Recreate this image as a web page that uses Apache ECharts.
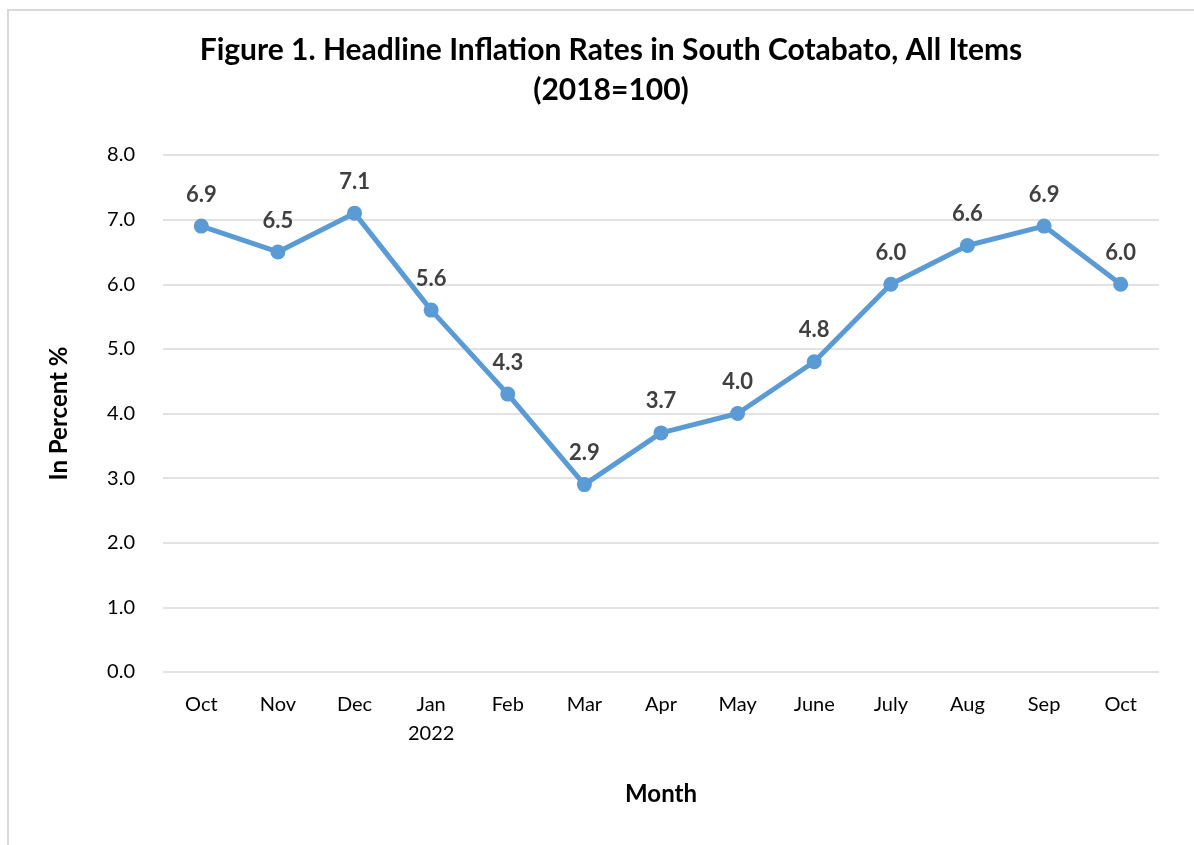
<!DOCTYPE html>
<html><head><meta charset="utf-8">
<script src="https://cdn.jsdelivr.net/npm/echarts@6/dist/echarts.min.js"></script>
<style>html,body{margin:0;padding:0;background:#fff;}#c{width:1194px;height:845px;}</style>
</head><body><div id="c"></div>
<script>
const categories = ['Oct','Nov','Dec','Jan\n2022','Feb','Mar','Apr','May','June','July','Aug','Sep','Oct'];
const values = [6.9, 6.5, 7.1, 5.6, 4.3, 2.9, 3.7, 4.0, 4.8, 6.0, 6.6, 6.9, 6.0];
const yTicks = {min: 0, max: 8, interval: 1};
const titleText = 'Figure 1. Headline Inflation Rates in South Cotabato, All Items\n(2018=100)';
const FONT = 'Lato, "Open Sans", sans-serif';
const chart = echarts.init(document.getElementById('c'));
chart.setOption({
  animation: false,
  graphic: [{type:'rect', shape:{x:8,y:10,width:1400,height:1000}, style:{fill:'none', stroke:'#d9d9d9', lineWidth:2}, silent:true}],
  title: {text: titleText, left: 606, textAlign: 'center', top: 25,
    textStyle: {fontFamily: FONT, fontSize: 30, fontWeight: 'bold', color: '#000', lineHeight: 40}},
  grid: {left: 163, right: 35, top: 155, bottom: 173},
  xAxis: {type: 'category', data: categories, boundaryGap: true,
    name: 'Month', nameLocation: 'middle', nameGap: 110,
    nameTextStyle: {fontFamily: FONT, fontSize: 24, fontWeight: 'bold', color: '#000'},
    axisLine: {show: false}, axisTick: {show: false},
    axisLabel: {fontFamily: FONT, fontSize: 20, color: '#000', margin: 18, lineHeight: 29}},
  yAxis: {type: 'value', min: yTicks.min, max: yTicks.max, interval: yTicks.interval,
    name: 'In Percent %', nameLocation: 'middle', nameGap: 92, nameRotate: 90,
    nameTextStyle: {fontFamily: FONT, fontSize: 24, fontWeight: 'bold', color: '#000'},
    axisLabel: {fontFamily: FONT, fontSize: 20, color: '#000', margin: 28, formatter: v => v.toFixed(1)},
    splitLine: {lineStyle: {color: '#d9d9d9', width: 1.5}}},
  series: [{type: 'line', data: values, color: '#5b9bd5',
    lineStyle: {width: 5, color: '#5b9bd5'}, symbol: 'circle', symbolSize: 15,
    itemStyle: {color: '#5b9bd5'},
    label: {show: true, position: 'top', distance: 13, formatter: p => p.value.toFixed(1),
      fontFamily: FONT, fontSize: 22, fontWeight: 'bold', color: '#404040'}}]
});
</script></body></html>
